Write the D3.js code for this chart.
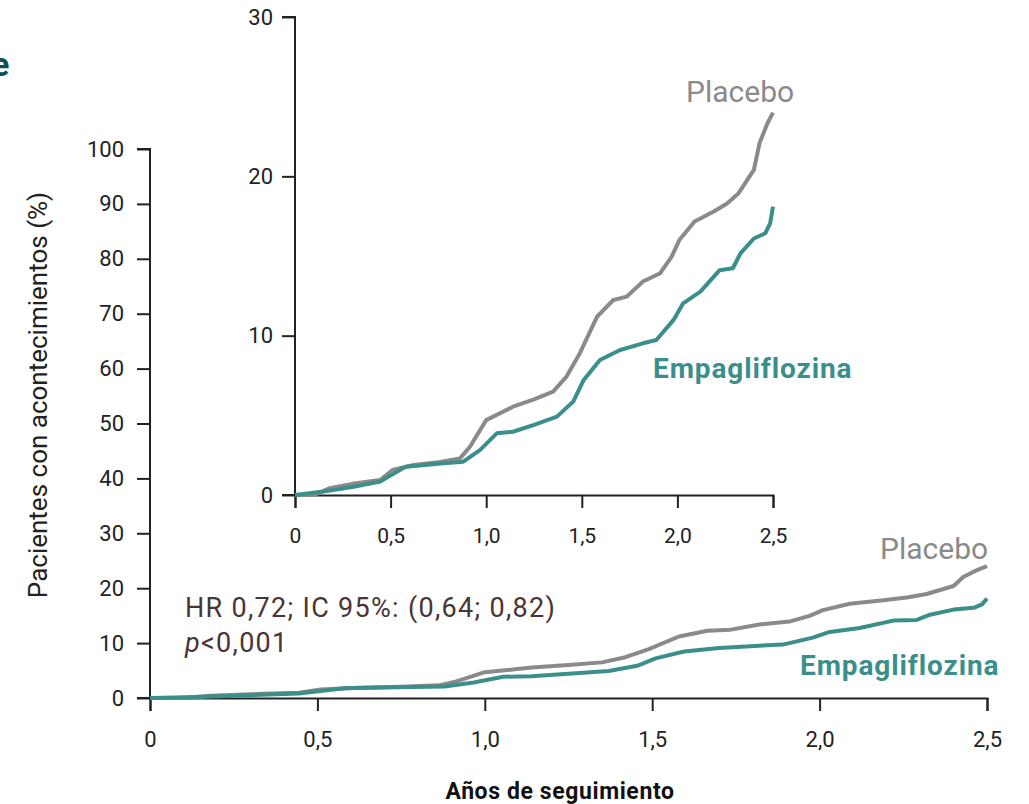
<!DOCTYPE html>
<html>
<head>
<meta charset="utf-8">
<script src="https://cdn.jsdelivr.net/npm/d3@7"></script>
<style>
  body { margin: 0; background: #fff; }
  svg { display: block; }
  text { font-family: "Roboto", "Noto Sans", sans-serif; }
</style>
</head>
<body>
<script>
const width = 1029;
const height = 804;

// Cumulative incidence (%), years of follow-up
const placeboT = [0, 0.11, 0.18, 0.3, 0.445, 0.51, 0.62, 0.75, 0.863, 0.915, 1.0, 1.14, 1.25, 1.35, 1.42, 1.49, 1.58, 1.665, 1.735, 1.82, 1.91, 1.97, 2.01, 2.09, 2.19, 2.26, 2.32, 2.40, 2.43, 2.47, 2.5];
const placeboV = [0, 0.05, 0.42, 0.7, 0.94, 1.57, 1.88, 2.05, 2.3, 3.03, 4.7, 5.54, 6.0, 6.49, 7.43, 8.9, 11.2, 12.24, 12.45, 13.4, 13.92, 14.96, 16.0, 17.16, 17.79, 18.3, 18.94, 20.4, 22.1, 23.3, 24.0];

const empaT = [0, 0.14, 0.3, 0.445, 0.58, 0.776, 0.88, 0.967, 1.055, 1.14, 1.25, 1.37, 1.455, 1.51, 1.595, 1.70, 1.82, 1.89, 1.98, 2.03, 2.12, 2.22, 2.29, 2.33, 2.40, 2.46, 2.485, 2.5];
const empaV = [0, 0.2, 0.5, 0.84, 1.78, 1.99, 2.09, 2.82, 3.87, 3.97, 4.4, 4.92, 5.86, 7.22, 8.47, 9.1, 9.52, 9.73, 10.99, 12.03, 12.76, 14.1, 14.23, 15.17, 16.1, 16.43, 17.05, 18.1];

const xTicks = [0, 0.5, 1.0, 1.5, 2.0, 2.5];
const mainYTicks = [0, 10, 20, 30, 40, 50, 60, 70, 80, 90, 100];
const insetYTicks = [0, 10, 20, 30];

const placeboColor = "#8a8a8a";
const empaColor = "#3b8f8b";
const fmt = d => d === 0 ? "0" : d3.format(".1f")(d).replace(".", ",");

const svg = d3.select("body").append("svg")
  .attr("width", width).attr("height", height);

const placebo = placeboT.map((t, i) => [t, placeboV[i]]);
const empa = empaT.map((t, i) => [t, empaV[i]]);

// fragment of cropped title at top-left
svg.append("text").attr("x", -9).attr("y", 76)
  .attr("font-size", 34).attr("font-weight", 700).attr("fill", "#0e4f56")
  .text("e");

function panel(g, x, y, yTicks, opts) {
  const line = d3.line().x(d => x(d[0])).y(d => y(d[1]));

  const xAxis = g.append("g")
    .attr("transform", `translate(0,${y(0)})`)
    .call(d3.axisBottom(x).tickValues(xTicks).tickFormat(fmt).tickSize(opts.tick).tickPadding(opts.xPad));
  const yAxis = g.append("g")
    .attr("transform", `translate(${x(0)},0)`)
    .call(d3.axisLeft(y).tickValues(yTicks).tickSize(opts.tick).tickPadding(opts.yPad));

  [xAxis, yAxis].forEach(a => {
    a.select(".domain").attr("stroke", "#222").attr("stroke-width", 2);
    a.selectAll(".tick line").attr("stroke", "#222").attr("stroke-width", 2);
  });
  xAxis.selectAll(".tick text").attr("fill", "#222").attr("font-size", opts.xFont);
  yAxis.selectAll(".tick text").attr("fill", "#222").attr("font-size", opts.yFont)
    .attr("font-family", "Noto Sans");
  // extend x baseline to the left to meet the 0 tick
  yAxis.select(".domain").attr("d", `M-${opts.tick},${y(yTicks[yTicks.length - 1])}H0V${y(0)}H-${opts.tick}`);

  g.append("path").datum(placebo)
    .attr("fill", "none").attr("stroke", placeboColor)
    .attr("stroke-width", opts.lw).attr("stroke-linejoin", "round")
    .attr("d", line);
  g.append("path").datum(empa)
    .attr("fill", "none").attr("stroke", empaColor)
    .attr("stroke-width", opts.lw).attr("stroke-linejoin", "round")
    .attr("d", line);
}

// Main chart
const mx = d3.scaleLinear().domain([0, 2.5]).range([150, 987]);
const my = d3.scaleLinear().domain([0, 100]).range([698, 149]);
panel(svg.append("g"), mx, my, mainYTicks, { tick: 13, xPad: 20, yPad: 13, xFont: 22, yFont: 22, lw: 4 });

// Inset chart
const ix = d3.scaleLinear().domain([0, 2.5]).range([295, 773]);
const iy = d3.scaleLinear().domain([0, 30]).range([495, 17]);
panel(svg.append("g"), ix, iy, insetYTicks, { tick: 13, xPad: 20, yPad: 9, xFont: 21, yFont: 22, lw: 4 });

// Series labels
svg.append("text").attr("x", 686).attr("y", 102)
  .attr("font-size", 30).attr("fill", placeboColor).text("Placebo");
svg.append("text").attr("x", 653).attr("y", 378)
  .attr("font-size", 28).attr("font-weight", 700).attr("letter-spacing", 0.9)
  .attr("fill", empaColor).text("Empagliflozina");
svg.append("text").attr("x", 880).attr("y", 559)
  .attr("font-size", 30).attr("fill", placeboColor).text("Placebo");
svg.append("text").attr("x", 800).attr("y", 675)
  .attr("font-size", 28).attr("font-weight", 700).attr("letter-spacing", 0.9)
  .attr("fill", empaColor).text("Empagliflozina");

// Statistics
svg.append("text").attr("x", 185).attr("y", 617)
  .attr("font-size", 27).attr("letter-spacing", 1.3).attr("fill", "#4a3434")
  .text("HR 0,72; IC 95%: (0,64; 0,82)");
const pText = svg.append("text").attr("x", 185).attr("y", 652)
  .attr("font-size", 27).attr("letter-spacing", 1.3).attr("fill", "#4a3434");
pText.append("tspan").attr("font-style", "italic").text("p");
pText.append("tspan").text("<0,001");

// Axis titles
svg.append("text")
  .attr("transform", "translate(47,395) rotate(-90)")
  .attr("text-anchor", "middle").attr("font-size", 26).attr("fill", "#222")
  .attr("font-family", "Noto Sans")
  .text("Pacientes con acontecimientos (%)");
svg.append("text").attr("x", 560).attr("y", 799)
  .attr("text-anchor", "middle").attr("font-size", 23).attr("font-weight", 700)
  .attr("letter-spacing", 0.6).attr("fill", "#111")
  .text("Años de seguimiento");
</script>
</body>
</html>
